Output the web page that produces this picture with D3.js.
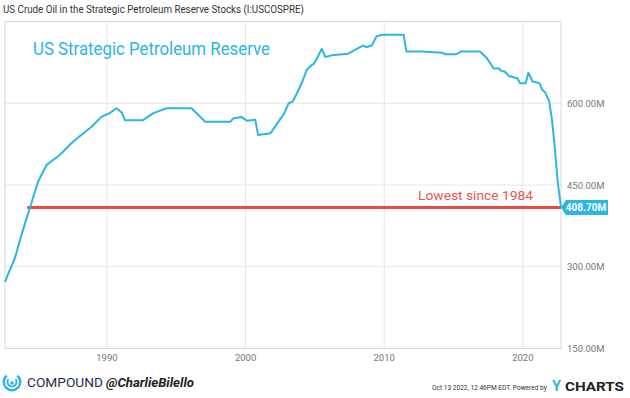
<!DOCTYPE html>
<html>
<head>
<meta charset="utf-8">
<script src="https://cdn.jsdelivr.net/npm/d3@7"></script>
<style>
  body { margin: 0; background: #fff; }
  svg { display: block; font-family: Roboto, "Liberation Sans", sans-serif; }
</style>
</head>
<body>
<svg id="chart" width="630" height="398"></svg>
<script>
// SPR stocks, millions of barrels
const years = [1982.65, 1983.0, 1983.37, 1983.73, 1984.1, 1984.4, 1984.7, 1985.05, 1985.65, 1986.6,
  1987.45, 1988.3, 1988.9, 1989.6, 1990.2, 1990.7, 1991.1, 1991.3, 1992.6, 1993.35,
  1994.3, 1996.1, 1997.1, 1998.9, 1999.1, 1999.7, 2000.1, 2000.7, 2000.9, 2001.8,
  2002.2, 2002.8, 2003.1, 2003.4, 2003.7, 2004.1, 2004.4, 2004.75, 2004.95, 2005.5,
  2005.75, 2006.2, 2007.4, 2008.25, 2008.5, 2008.7, 2009.1, 2009.45, 2009.9, 2011.4,
  2011.6, 2012.7, 2014.2, 2014.4, 2015.2, 2015.5, 2016.9, 2017.4, 2017.9, 2018.3,
  2018.4, 2018.7, 2019.0, 2019.6, 2019.8, 2020.2, 2020.4, 2020.7, 2021.2, 2021.4,
  2021.6, 2021.9, 2022.1, 2022.3, 2022.5, 2022.75];
const stocks = [272, 294, 316, 349, 380, 404, 429, 457, 487, 505,
  527, 545, 557, 575, 582, 591, 582, 569, 569, 582,
  591, 591, 566, 566, 572, 575, 568, 570, 542, 545,
  560, 582, 600, 603, 618, 640, 661, 670, 673, 700,
  685, 688, 691, 703, 706, 703, 706, 723, 726, 726,
  695, 695, 693, 690, 690, 695, 695, 683, 664, 664,
  660, 658, 650, 646, 637, 637, 656, 640, 637, 625,
  620, 604, 569, 520, 459, 408.7];

const yTicks = [150, 300, 450, 600, 750];
const yLabels = ['150.00M', '300.00M', '450.00M', '600.00M'];
const xTicks = [1990, 2000, 2010, 2020];
const lowValue = 408.7;
const lowStart = 1984.25;

const svg = d3.select('#chart');
const margin = {left: 5, right: 561, top: 21.6, bottom: 348.4};

const x = d3.scaleLinear().domain([1982.65, 2022.75]).range([margin.left, margin.right]);
const y = d3.scaleLinear().domain([150, 750]).range([margin.bottom, margin.top]);

// header title
svg.append('text')
   .attr('x', 3).attr('y', 13)
   .attr('font-size', 11.5)
   .attr('fill', '#333')
   .attr('textLength', 301)
   .attr('lengthAdjust', 'spacingAndGlyphs')
   .text('US Crude Oil in the Strategic Petroleum Reserve Stocks (I:USCOSPRE)');

// grid
const grid = svg.append('g');
grid.selectAll('.hgrid')
    .data(yTicks)
    .enter()
    .append('line')
    .attr('x1', margin.left).attr('x2', margin.right)
    .attr('y1', d => y(d)).attr('y2', d => y(d))
    .attr('stroke', '#e6e6e6').attr('stroke-width', 1);

grid.selectAll('.vgrid')
    .data(xTicks)
    .enter()
    .append('line')
    .attr('x1', d => x(d)).attr('x2', d => x(d))
    .attr('y1', margin.top).attr('y2', margin.bottom)
    .attr('stroke', '#e6e6e6').attr('stroke-width', 1);

grid.append('rect')
    .attr('x', margin.left).attr('y', margin.top)
    .attr('width', margin.right - margin.left)
    .attr('height', margin.bottom - margin.top)
    .attr('fill', 'none')
    .attr('stroke', '#d8d8d8');

// axis labels
svg.selectAll('.ylab')
   .data(yLabels)
   .enter()
   .append('text')
   .attr('x', 567)
   .attr('y', (d, i) => y(yTicks[i]) + 3.5)
   .attr('font-size', 9.5)
   .attr('fill', '#777')
   .text(d => d);

svg.selectAll('.xlab')
   .data(xTicks)
   .enter()
   .append('text')
   .attr('x', d => x(d))
   .attr('y', 361)
   .attr('text-anchor', 'middle')
   .attr('font-size', 9.5)
   .attr('fill', '#777')
   .text(d => d);

// red "lowest" line
svg.append('line')
   .attr('x1', x(lowStart)).attr('x2', margin.right)
   .attr('y1', y(lowValue)).attr('y2', y(lowValue))
   .attr('stroke', '#ec4a3c').attr('stroke-width', 3);

// series line
const line = d3.line()
               .x((d, i) => x(years[i]))
               .y(d => y(d));

svg.append('path')
   .datum(stocks)
   .attr('d', line)
   .attr('fill', 'none')
   .attr('stroke', '#2db5e6')
   .attr('stroke-width', 2)
   .attr('stroke-linejoin', 'round');

// annotations
svg.append('text')
   .attr('x', 33).attr('y', 55)
   .attr('font-size', 19)
   .attr('fill', '#2db5e6')
   .attr('textLength', 237)
   .attr('lengthAdjust', 'spacingAndGlyphs')
   .text('US Strategic Petroleum Reserve');

svg.append('text')
   .attr('x', 418).attr('y', 200)
   .attr('font-size', 13)
   .attr('fill', '#e8574a')
   .attr('textLength', 115)
   .attr('lengthAdjust', 'spacingAndGlyphs')
   .text('Lowest since 1984');

// last value flag
const ly = y(lowValue);
svg.append('path')
   .attr('d', `M${margin.right},${ly} L${margin.right + 5},${ly - 7.5} L608,${ly - 7.5} L608,${ly + 7.5} L${margin.right + 5},${ly + 7.5} Z`)
   .attr('fill', '#2db5e6');

svg.append('text')
   .attr('x', 586).attr('y', ly + 3.8)
   .attr('text-anchor', 'middle')
   .attr('font-size', 10)
   .attr('font-weight', 'bold')
   .attr('fill', '#fff')
   .text('408.70M');

// footer: compound logo
const logo = svg.append('g').attr('transform', 'translate(12,382)');
logo.append('path')
    .attr('d', d3.arc()({innerRadius: 7, outerRadius: 9.5, startAngle: 0.7, endAngle: 2 * Math.PI - 0.7}))
    .attr('fill', '#2db5e6');
logo.append('path')
    .attr('d', d3.arc()({innerRadius: 3.5, outerRadius: 5.5, startAngle: 0.9, endAngle: 2 * Math.PI - 0.9}))
    .attr('fill', '#2db5e6');
logo.append('circle').attr('cx', 0).attr('cy', 1).attr('r', 1.8).attr('fill', '#2db5e6');

svg.append('text')
   .attr('x', 27).attr('y', 387)
   .attr('font-size', 13)
   .attr('fill', '#1f2e4d')
   .attr('textLength', 76)
   .attr('lengthAdjust', 'spacingAndGlyphs')
   .text('COMPOUND');

svg.append('text')
   .attr('x', 106).attr('y', 387)
   .attr('font-size', 13)
   .attr('font-weight', 'bold')
   .attr('font-style', 'italic')
   .attr('fill', '#222')
   .attr('textLength', 88)
   .attr('lengthAdjust', 'spacingAndGlyphs')
   .text('@CharlieBilello');

// footer: ycharts (squeezed horizontally so its real box fits)
function squeezed(str, x0, yb, size, width, weight, color) {
    let g = svg.append('g');
    let t = g.append('text')
             .attr('x', 0).attr('y', 0)
             .attr('font-size', size)
             .attr('font-weight', weight)
             .attr('fill', color)
             .text(str);
    let natural = t.node().getComputedTextLength();
    g.attr('transform', `translate(${x0},${yb}) scale(${width / natural},1)`);
}

squeezed('Oct 13 2022, 12:46PM EDT.  Powered by', 432, 390, 8, 115, 'normal', '#333');
squeezed('Y', 552, 391, 14, 9, 'bold', '#2db5e6');
squeezed('CHARTS', 565, 391, 13, 59, 'bold', '#222');
</script>
</body>
</html>
